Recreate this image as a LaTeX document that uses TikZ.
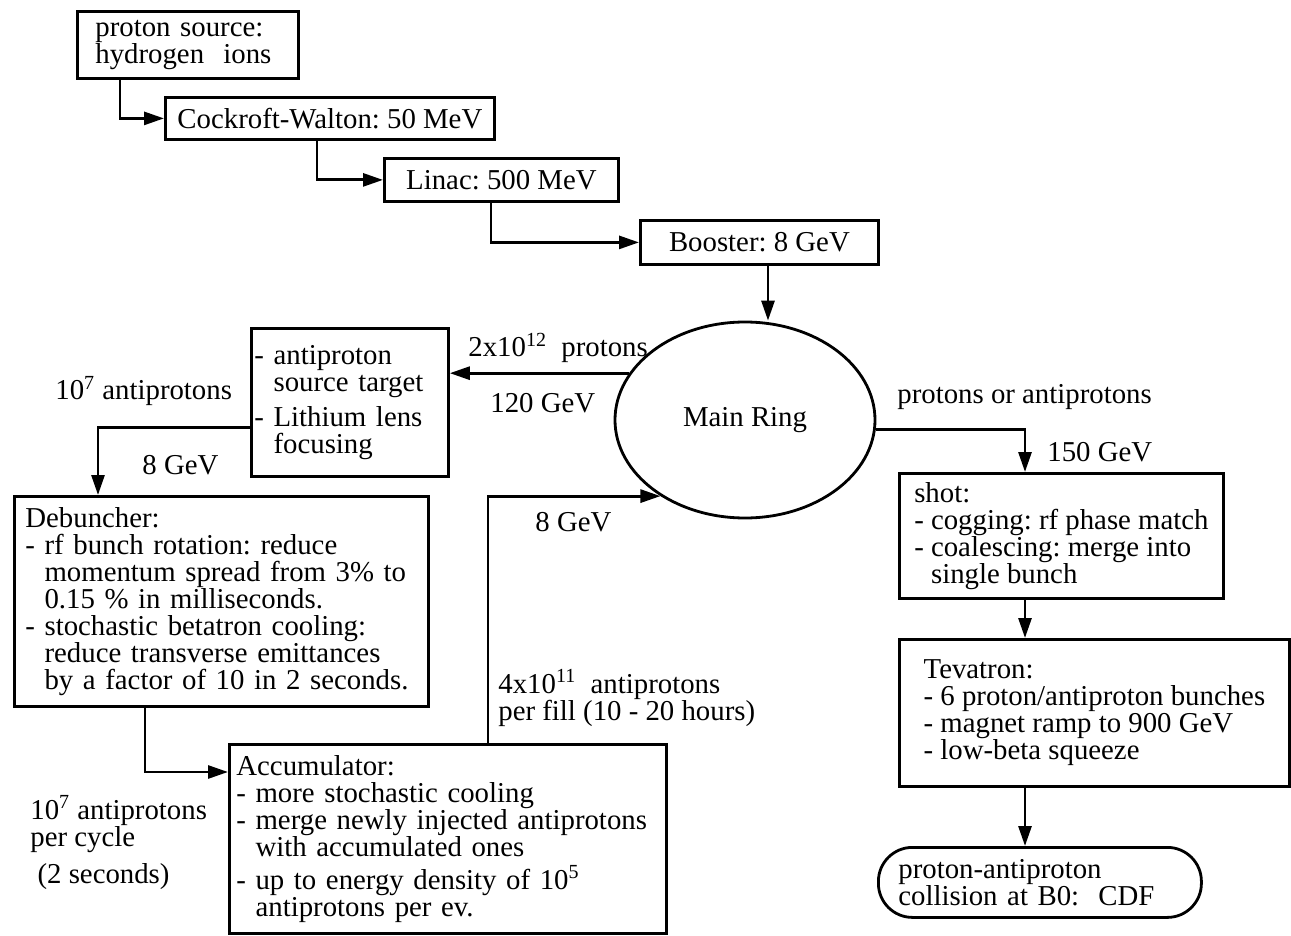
\documentclass[tikz,border=0pt]{standalone}
\usepackage{fontspec}
\setmainfont{Liberation Serif}
\usetikzlibrary{arrows.meta,shapes.geometric}
\frenchspacing

\tikzset{
  box/.style={draw, line width=1.4pt, anchor=north west, inner sep=0pt, align=left},
  lbl/.style={inner sep=0pt, align=left, anchor=base west},
  arr/.style={line width=1.4pt, -{Triangle[length=10pt,width=6.5pt]}},
}

\begin{document}
\begin{tikzpicture}[x=0.5pt, y=-0.5pt, font=\fontsize{14.4pt}{13.5pt}\selectfont]
  \useasboundingbox (0,0) rectangle (1291,936);
  % 质子源到增强器
  \node[box, minimum width=110.5pt, minimum height=33.5pt, text width=92.5pt, inner xsep=9pt] (src) at (76,10) {proton source:\\hydrogen\ \ ions};
  \node[box, minimum width=164.5pt, minimum height=21pt, align=center] (cw) at (164,96) {Cockroft-Walton: 50 MeV};
  \node[box, minimum width=117pt, minimum height=21.5pt, align=center] (linac) at (383,157) {Linac: 500 MeV};
  \node[box, minimum width=119pt, minimum height=22pt, align=center] (booster) at (639,219) {Booster: 8 GeV};
  \node[draw, ellipse, line width=1.4pt, minimum width=130pt, minimum height=98pt] (ring) at (745,420) {Main Ring};
  % 反质子部分
  \node[box, minimum height=74pt, text width=95.5pt, inner xsep=1.5pt] (pbar) at (250,327) {- antiproton\\\hphantom{- }source target\\[4pt]- Lithium lens\\\hphantom{- }focusing};
  \node[box, minimum height=105pt, text width=196pt, inner xsep=5.5pt] (deb) at (13,495) {Debuncher:\\- rf bunch rotation: reduce\\\hphantom{- }momentum spread from 3\% to\\\hphantom{- }0.15 \% in milliseconds.\\- stochastic betatron cooling:\\\hphantom{- }reduce transverse emittances\\\hphantom{- }by a factor of 10 in 2 seconds.};
  \node[box, minimum height=94.5pt, text width=211.5pt, inner xsep=3.5pt] (acc) at (228,743) {Accumulator:\\- more stochastic cooling\\- merge newly injected antiprotons\\\hphantom{- }with accumulated ones\\[3pt]- up to energy density of 10\textsuperscript{5}\\\hphantom{- }antiprotons per ev.};
  % 对撞部分
  \node[box, minimum width=162pt, minimum height=62.5pt] (shot) at (898,472) {shot:\\- cogging: rf phase match\\- coalescing: merge into\\\hphantom{- }single bunch};
  \node[box, minimum width=195pt, minimum height=73.5pt] (tev) at (898,638) {Tevatron:\\- 6 proton/antiproton bunches\\- magnet ramp to 900 GeV\\- low-beta squeeze};
  \node[box, rounded corners=17pt, minimum height=35pt, text width=141.5pt, inner xsep=10pt] (coll) at (877,846) {proton-antiproton\\collision at B0:\ \ CDF};
  % 标注
  \node[lbl] (n7a) at (55,400) {10\textsuperscript{7} antiprotons};
  \node[lbl] (ge8a) at (142,474) {8 GeV};
  \node[lbl] (pp12) at (468,357) {2x10\textsuperscript{12}\ \ protons};
  \node[lbl] (ge120) at (490,412) {120 GeV};
  \node[lbl] (ge8b) at (535,531) {8 GeV};
  \node[lbl] (pfill) at (498,720) {4x10\textsuperscript{11}\ \ antiprotons\\per fill (10 - 20 hours)};
  \node[lbl] (pcyc) at (30,883) {10\textsuperscript{7} antiprotons\\per cycle\\[5pt]\ (2 seconds)};
  \node[lbl] (poa) at (897,403) {protons or antiprotons};
  \node[lbl] (ge150) at (1047,461) {150 GeV};
  % 箭头
  \foreach \a/\b/\s in {src/cw/22pt, cw/linac/76.5pt, linac/booster/54pt}
    \draw[arr] ([xshift=\s]\a.south west) |- (\b.west);
  \draw[arr] ([xshift=64.5pt]booster.south west) -- ([xshift=64.5pt]booster.south west |- ring.north);
  \draw[arr] (ring.158) -- (ring.158 -| pbar.east);
  \draw[arr] ([yshift=25pt]pbar.south west) -| ([xshift=42.5pt]deb.north west);
  \draw[arr] ([xshift=66pt]deb.south west) |- ([yshift=-14.5pt]acc.north west);
  \draw[arr] ([xshift=130pt]acc.north west) |- (ring.222);
  \draw[arr] (ring.356) -| ([xshift=63.5pt]shot.north west);
  \draw[arr] ([xshift=63.5pt]shot.south west) -- ([xshift=63.5pt]tev.north west);
  \draw[arr] ([xshift=63.5pt]tev.south west) -- ([xshift=74pt]coll.north west);
\end{tikzpicture}
\end{document}
